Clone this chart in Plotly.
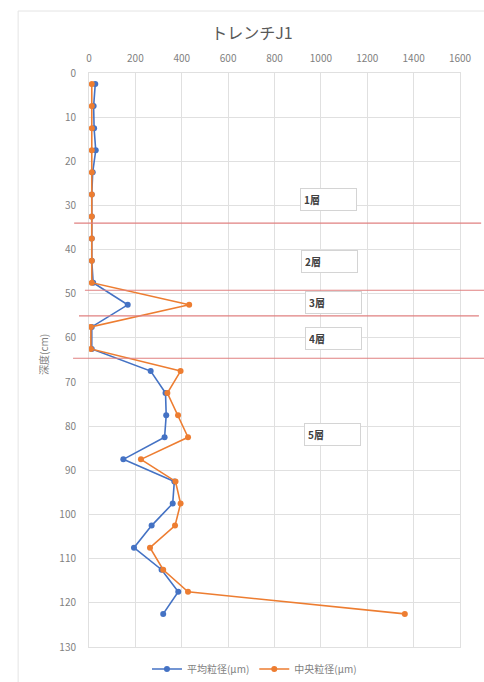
import plotly.graph_objects as go

# ---- data ----
depth_cm = [2.5, 7.5, 12.5, 17.5, 22.5, 27.5, 32.5, 37.5, 42.5, 47.5, 52.5, 57.5, 62.5,
            67.5, 72.5, 77.5, 82.5, 87.5, 92.5, 97.5, 102.5, 107.5, 112.5, 117.5, 122.5]
mean_grain_um = [27, 20, 22, 29, 16, 12, 12, 12, 12, 18, 167, 12, 12,
                 266, 330, 333, 326, 148, 368, 361, 270, 194, 313, 385, 320]
median_grain_um = [12, 12, 12, 12, 12, 12, 12, 12, 12, 12, 432, 8, 8,
                   395, 338, 384, 427, 224, 373, 395, 371, 263, 320, 427, 1362]
series_names = ["平均粒径(μm)", "中央粒径(μm)"]
boundary_depths = [34.0, 49.2, 55.0, 64.6]
layer_labels = ["1層", "2層", "3層", "4層", "5層"]
layer_label_depths = [28.7, 42.6, 51.9, 60.1, 81.8]
layer_label_x = [1033, 1037, 1054, 1054, 1050]

FONT = "Noto Sans CJK JP, Noto Sans, sans-serif"
BLUE = "#4472C4"
ORANGE = "#ED7D31"

fig = go.Figure()
fig.add_trace(go.Scatter(x=mean_grain_um, y=depth_cm, name=series_names[0], mode="lines+markers",
                         line=dict(color=BLUE, width=1.6), marker=dict(color=BLUE, size=6)))
fig.add_trace(go.Scatter(x=median_grain_um, y=depth_cm, name=series_names[1], mode="lines+markers",
                         line=dict(color=ORANGE, width=1.6), marker=dict(color=ORANGE, size=6)))

# boundary lines (drawn over the chart, extending past the plot area)
line_extents = [(-0.04, 1.057), (-0.011, 1.09), (-0.027, 1.051), (-0.043, 1.09)]
for d, (x0, x1) in zip(boundary_depths, line_extents):
    fig.add_shape(type="line", xref="paper", yref="y", x0=x0, x1=x1, y0=d, y1=d,
                  line=dict(color="#E08080", width=1.2))

# outer chart frame (faint)
fig.add_shape(type="line", xref="paper", yref="paper", x0=-0.191, x1=1.2, y0=1.108, y1=1.108,
              line=dict(color="#e4e4e4", width=1))
fig.add_shape(type="line", xref="paper", yref="paper", x0=-0.191, x1=-0.191, y0=-0.2, y1=1.108,
              line=dict(color="#e4e4e4", width=1))

for lab, d, xv in zip(layer_labels, layer_label_depths, layer_label_x):
    fig.add_annotation(x=xv, y=d, xref="x", yref="y", text="<b>" + lab + "</b>", showarrow=False,
                       width=49, height=15, align="left", borderpad=3,
                       bordercolor="#d4d4d4", borderwidth=1, bgcolor="white",
                       font=dict(family=FONT, size=10, color="#404040"))

fig.add_annotation(x=-0.121, y=0.509, xref="paper", yref="paper", text="深度(cm)", textangle=-90,
                   xanchor="center", yanchor="middle",
                   showarrow=False, font=dict(family=FONT, size=10, color="#7f7f7f"))

fig.update_layout(
    width=484, height=682,
    margin=dict(l=89, r=24, t=73, b=35, autoexpand=False),
    paper_bgcolor="white", plot_bgcolor="white",
    title=dict(text="トレンチJ1", x=252 / 484, xanchor="center", xref="container",
               y=1 - 33 / 682, yref="container", yanchor="middle",
               font=dict(family=FONT, size=16, color="#595959")),
    font=dict(family=FONT, color="#7f7f7f"),
    showlegend=True,
    legend=dict(orientation="h", x=0.446, xanchor="center", xref="paper",
                y=1 - 669 / 682, yref="container", yanchor="middle",
                font=dict(family=FONT, size=10, color="#7f7f7f"), itemwidth=30),
    xaxis=dict(side="top", range=[0, 1600], dtick=200, tick0=0, showgrid=True, gridcolor="#e0e0e0",
               zeroline=False, showline=True, linecolor="#e0e0e0", mirror=True,
               tickfont=dict(size=10, color="#7f7f7f"), ticklabelstandoff=6),
    yaxis=dict(range=[130, 0], dtick=10, tick0=0, showgrid=True, gridcolor="#e0e0e0",
               zeroline=False, showline=True, linecolor="#e0e0e0", mirror=True,
               tickfont=dict(size=10, color="#7f7f7f"), ticklabelstandoff=10),
)

fig.write_html("out.html", config={"displayModeBar": False},
               post_script="document.body.style.margin='0px';")
